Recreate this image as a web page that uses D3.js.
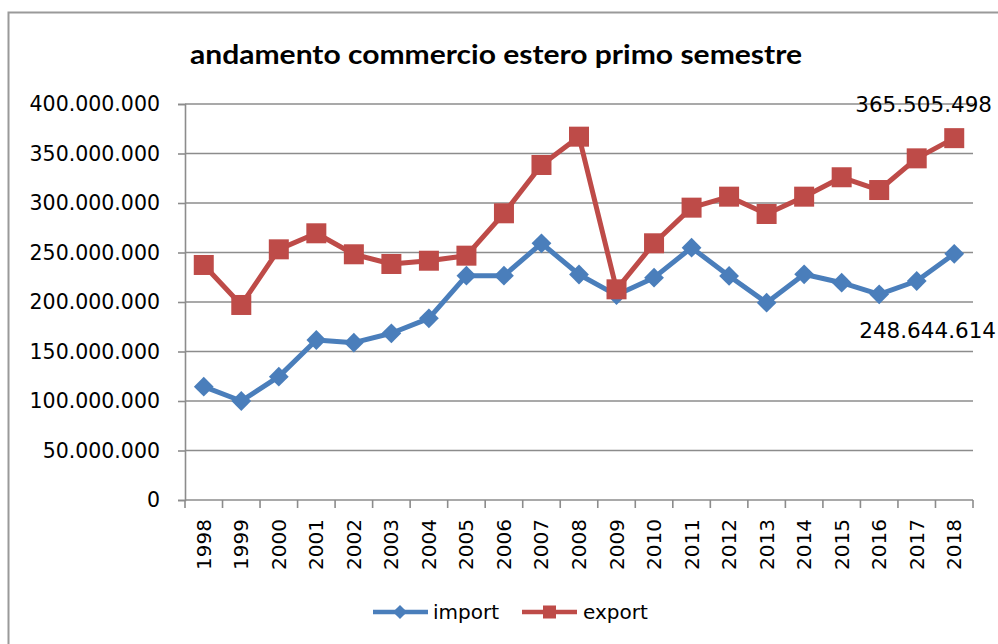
<!DOCTYPE html>
<html>
<head>
<meta charset="utf-8">
<script src="https://cdn.jsdelivr.net/npm/d3@7/dist/d3.min.js"></script>
<style>
  html, body { margin: 0; padding: 0; background: #fff; }
  svg { display: block; }
</style>
</head>
<body>
<svg id="chart" width="998" height="644"></svg>
<script>
const years = ["1998","1999","2000","2001","2002","2003","2004","2005","2006","2007","2008","2009","2010","2011","2012","2013","2014","2015","2016","2017","2018"];
const importValues = [114500000,100000000,124600000,161600000,158900000,168400000,183500000,226600000,226600000,259300000,227800000,207000000,224600000,254900000,226300000,199300000,228000000,219500000,207800000,221200000,248644614];
const exportValues = [237400000,197000000,253200000,269400000,248200000,238400000,241700000,246800000,289600000,338400000,367000000,212800000,259300000,295300000,306400000,288900000,306400000,326000000,313100000,345100000,365505498];
const yTicks = [0,50000000,100000000,150000000,200000000,250000000,300000000,350000000,400000000];
const titleText = "andamento commercio estero primo semestre";
const seriesNames = ["import","export"];

const svg = d3.select("#chart");
const W = 998, H = 644;
const plot = {left: 185, right: 973, top: 104, bottom: 500};
const blue = "#4a7ebb", red = "#be4b48", grid = "#8c8c8c";
const fontAxis = "'DejaVu Sans', sans-serif";

// outer chart border
svg.append("rect").attr("x", 8.5).attr("y", 12.5).attr("width", 1010).attr("height", 660)
  .attr("fill", "#fff").attr("stroke", "#9a9a9a").attr("stroke-width", 2);

const x = d3.scaleBand().domain(years).range([plot.left, plot.right]).paddingInner(0).paddingOuter(0);
const y = d3.scaleLinear().domain([0, 400000000]).range([plot.bottom, plot.top]);

const fmt = v => d3.format(",")(v).replace(/,/g, ".");

// title
svg.append("text").attr("x", 496).attr("y", 64).attr("text-anchor", "middle")
  .attr("font-family", "Lato, 'Open Sans', sans-serif").attr("font-weight", "bold")
  .attr("font-size", 26).attr("textLength", 612).attr("lengthAdjust", "spacingAndGlyphs")
  .attr("fill", "#000").text(titleText);

// gridlines
svg.append("g").selectAll("line").data(yTicks.filter(d => d > 0)).join("line")
  .attr("x1", plot.left).attr("x2", plot.right)
  .attr("y1", d => y(d)).attr("y2", d => y(d))
  .attr("stroke", grid).attr("stroke-width", 1.6);

// y axis
const yAxis = svg.append("g").attr("transform", `translate(${plot.left},0)`)
  .call(d3.axisLeft(y).tickValues(yTicks).tickSize(7).tickPadding(18).tickFormat(fmt));
yAxis.select(".domain").attr("stroke", grid).attr("stroke-width", 1.6);
yAxis.selectAll(".tick line").attr("stroke", grid).attr("stroke-width", 1.6);
yAxis.selectAll(".tick text").attr("font-family", fontAxis).attr("font-size", 20.5).attr("fill", "#000");

// x axis: ticks at category boundaries
const xAxisG = svg.append("g").attr("transform", `translate(0,${plot.bottom})`);
xAxisG.append("line").attr("x1", plot.left).attr("x2", plot.right).attr("y1", 0).attr("y2", 0)
  .attr("stroke", grid).attr("stroke-width", 1.6);
const boundaries = years.map(d => x(d)).concat([x(years[years.length-1]) + x.bandwidth()]);
xAxisG.selectAll("line.tk").data(boundaries).join("line").attr("class", "tk")
  .attr("x1", d => d).attr("x2", d => d).attr("y1", 0).attr("y2", 8)
  .attr("stroke", grid).attr("stroke-width", 1.6);
xAxisG.selectAll("text").data(years).join("text")
  .attr("transform", d => `translate(${x(d) + x.bandwidth()/2},19) rotate(-90)`)
  .attr("text-anchor", "end").attr("dy", "0.35em")
  .attr("font-family", fontAxis).attr("font-size", 20).attr("fill", "#000")
  .text(d => d);

const cx = d => x(d) + x.bandwidth()/2;
const line = d3.line().x(d => cx(d.year)).y(d => y(d.v));
const importData = years.map((yr, i) => ({year: yr, v: importValues[i]}));
const exportData = years.map((yr, i) => ({year: yr, v: exportValues[i]}));

// import line
svg.append("path").datum(importData).attr("d", line).attr("fill", "none")
  .attr("stroke", blue).attr("stroke-width", 5).attr("stroke-linejoin", "round");
// export line
svg.append("path").datum(exportData).attr("d", line).attr("fill", "none")
  .attr("stroke", red).attr("stroke-width", 5).attr("stroke-linejoin", "round");

const diamond = d3.symbol().type(d3.symbolDiamond2 || d3.symbolSquare2).size(190);
// diamonds for import
svg.append("g").selectAll("rect").data(importData).join("rect")
  .attr("x", -7).attr("y", -7).attr("width", 14).attr("height", 14)
  .attr("transform", d => `translate(${cx(d.year)},${y(d.v)}) rotate(45)`)
  .attr("fill", blue);
// squares for export
svg.append("g").selectAll("rect").data(exportData).join("rect")
  .attr("x", d => cx(d.year) - 10).attr("y", d => y(d.v) - 10)
  .attr("width", 20).attr("height", 20).attr("fill", red);

// data labels
const lastIdx = years.length - 1;
svg.append("text").attr("x", 992).attr("y", y(exportValues[lastIdx]) - 26)
  .attr("text-anchor", "end").attr("font-family", fontAxis).attr("font-size", 21.5).attr("fill", "#000")
  .text(fmt(exportValues[lastIdx]));
svg.append("text").attr("x", 996).attr("y", y(importValues[lastIdx]) + 84)
  .attr("text-anchor", "end").attr("font-family", fontAxis).attr("font-size", 21.5).attr("fill", "#000")
  .text(fmt(importValues[lastIdx]));

// legend
const legY = 612;
const lg = svg.append("g");
lg.append("line").attr("x1", 373).attr("x2", 428).attr("y1", legY).attr("y2", legY)
  .attr("stroke", blue).attr("stroke-width", 4.5);
lg.append("rect").attr("x", -5).attr("y", -5).attr("width", 10).attr("height", 10)
  .attr("transform", `translate(400,${legY}) rotate(45)`).attr("fill", blue);
lg.append("text").attr("x", 433).attr("y", legY).attr("dy", "0.35em")
  .attr("font-family", fontAxis).attr("font-size", 20).attr("fill", "#000").text(seriesNames[0]);
lg.append("line").attr("x1", 522).attr("x2", 577).attr("y1", legY).attr("y2", legY)
  .attr("stroke", red).attr("stroke-width", 4.5);
lg.append("rect").attr("x", 543).attr("y", legY - 6.5).attr("width", 13).attr("height", 13).attr("fill", red);
lg.append("text").attr("x", 583).attr("y", legY).attr("dy", "0.35em")
  .attr("font-family", fontAxis).attr("font-size", 20).attr("fill", "#000").text(seriesNames[1]);
</script>
</body>
</html>
